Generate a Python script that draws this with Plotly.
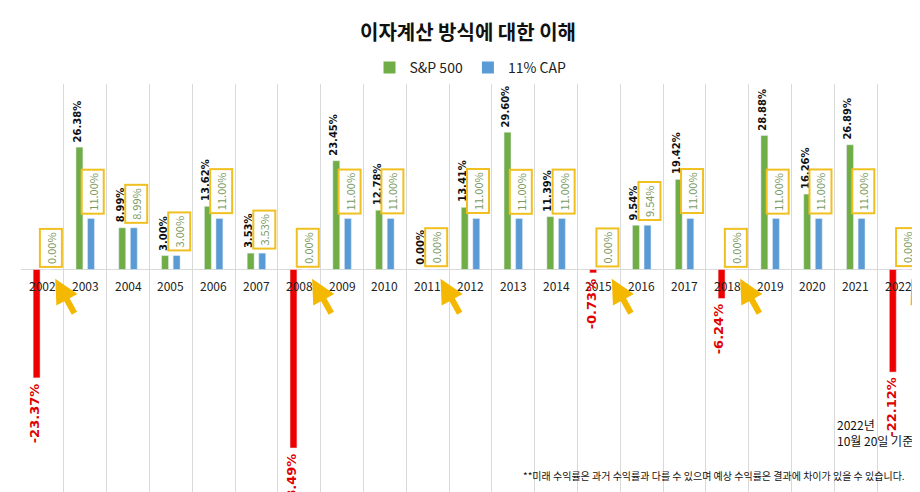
import plotly.graph_objects as go

years = [str(y) for y in range(2002, 2023)]
sp500 = [-23.37, 26.38, 8.99, 3.00, 13.62, 3.53, -38.49, 23.45, 12.78, 0.00, 13.41,
         29.60, 11.39, -0.73, 9.54, 19.42, -6.24, 28.88, 16.26, 26.89, -22.12]
cap = [0.00, 11.00, 8.99, 3.00, 11.00, 3.53, 0.00, 11.00, 11.00, 0.00, 11.00,
       11.00, 11.00, 0.00, 9.54, 11.00, 0.00, 11.00, 11.00, 11.00, 0.00]
arrow_years = ["2002", "2008", "2011", "2015", "2018", "2022"]

GREEN, BLUE, RED, GOLD = "#70ad47", "#5b9bd5", "#ee0000", "#f5b800"
x = list(range(len(years)))
sp_colors = [RED if v < 0 else GREEN for v in sp500]

fig = go.Figure()
fig.add_bar(x=x, y=sp500, name="S&P 500", marker_color=sp_colors, showlegend=False)
fig.add_bar(x=x, y=cap, name="11% CAP", marker_color=BLUE, showlegend=False)
fig.add_scatter(x=[None], y=[None], mode="markers", name="S&P 500",
                marker=dict(symbol="square", size=10, color=GREEN))
fig.add_scatter(x=[None], y=[None], mode="markers", name="11% CAP",
                marker=dict(symbol="square", size=10, color=BLUE))

BOLD = "DejaVu Sans"
ann = []
for i, (yr, s, c) in enumerate(zip(years, sp500, cap)):
    ann.append(dict(x=i, y=-1.2, text=yr, showarrow=False, yanchor="top",
                    font=dict(size=12, color="#222")))
    if s < 0:
        ann.append(dict(x=i, y=s, text=f"<b>{s:.2f}%</b>", showarrow=False, textangle=-90,
                        yanchor="top", xshift=-8, yshift=-3,
                        font=dict(size=13, color="#e00000", family=BOLD)))
    else:
        ann.append(dict(x=i, y=s, text=f"<b>{s:.2f}%</b>", showarrow=False, textangle=-90,
                        yanchor="bottom", xshift=-8, yshift=3,
                        font=dict(size=10, color="#111", family=BOLD)))
    ann.append(dict(x=i, y=c, text=f"{c:.2f}%", showarrow=False, textangle=-90,
                    yanchor="bottom", xshift=8, yshift=4 if c > 0 else 2,
                    bordercolor="#f0c020", borderwidth=2, borderpad=2, bgcolor="white",
                    font=dict(size=11, color="#7a9a60")))
for yr in arrow_years:
    i = years.index(yr)
    ann.append(dict(x=i + 0.3, y=-2.0, text="", showarrow=True, arrowhead=2,
                    arrowsize=0.8, arrowwidth=6, arrowcolor=GOLD, ax=20, ay=36))
ann.append(dict(xref="paper", yref="paper", x=0.905, y=0.118, xanchor="left", yanchor="bottom",
                text="2022년<br>10월 20일 기준", showarrow=False, align="left",
                font=dict(size=12, color="#111")))
ann.append(dict(xref="paper", yref="paper", x=0.985, y=0.035, xanchor="right",
                text="**미래 수익률은 과거 수익률과 다를 수 있으며 예상 수익률은 결과에 차이가 있을 수 있습니다.",
                showarrow=False, font=dict(size=10, color="#111")))

fig.update_layout(
    width=920, height=492, margin=dict(l=13, r=8, t=76, b=0),
    paper_bgcolor="white", plot_bgcolor="white",
    font=dict(family="Noto Sans CJK KR, Noto Sans, sans-serif"),
    title=dict(text="<b>이자계산 방식에 대한 이해</b>", x=0.5, y=0.95, xanchor="center",
               yanchor="middle", font=dict(size=20, color="#111")),
    legend=dict(orientation="h", x=0.5, xanchor="center", y=1.0, yanchor="bottom",
                font=dict(size=14, color="#222"), itemsizing="constant"),
    barmode="group", bargap=0.46, bargroupgap=0.4,
    annotations=ann,
    xaxis=dict(range=[-0.5, len(years) - 0.5], tickvals=[i + 0.5 for i in range(-1, len(years))],
               showticklabels=False, showgrid=True, gridcolor="#d9d9d9", gridwidth=1,
               zeroline=False, ticks=""),
    yaxis=dict(range=[-49.7, 40.0], visible=False),
)
fig.add_hline(y=0, line_color="#d9d9d9", line_width=1, layer="below")
fig.write_html("out.html")
